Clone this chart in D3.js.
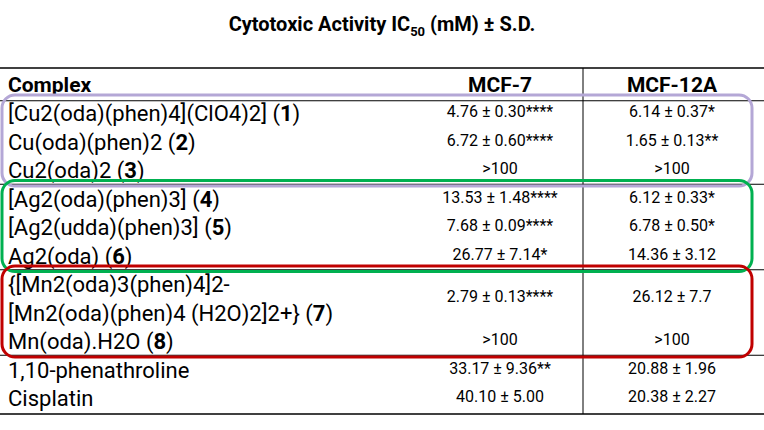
<!DOCTYPE html>
<html lang="en">
<head>
<meta charset="UTF-8">
<script src="https://d3js.org/d3.v7.min.js"></script>
<style>
  body { margin: 0; background: #fff; }
  text { font-family: 'Liberation Sans Narrow', 'Roboto', sans-serif; fill: #000; }
</style>
</head>
<body>
<script>
// Table content
const compounds = [
    [['[Cu2(oda)(phen)4](ClO4)2] (', false], ['1', true], [')', false]],
    [['Cu(oda)(phen)2 (', false], ['2', true], [')', false]],
    [['Cu2(oda)2 (', false], ['3', true], [')', false]],
    [['[Ag2(oda)(phen)3] (', false], ['4', true], [')', false]],
    [['[Ag2(udda)(phen)3] (', false], ['5', true], [')', false]],
    [['Ag2(oda) (', false], ['6', true], [')', false]],
    [['{[Mn2(oda)3(phen)4]2-', false]],
    [['[Mn2(oda)(phen)4 (H2O)2]2+} (', false], ['7', true], [')', false]],
    [['Mn(oda).H2O  (', false], ['8', true], [')', false]],
    [['1,10-phenathroline', false]],
    [['Cisplatin', false]]
];
// line index where each compound label sits
const nameLines = [1, 2, 3, 4, 5, 6, 7, 8, 9, 10, 11];
// line index for the values (row 7 spans two lines)
const valueLines = [1, 2, 3, 4, 5, 6, 7.5, 9, 10, 11];
const mcf7 = ['4.76 ± 0.30****', '6.72 ± 0.60****', '>100', '13.53 ± 1.48****', '7.68 ± 0.09****',
    '26.77 ± 7.14*', '2.79 ± 0.13****', '>100', '33.17 ± 9.36**', '40.10 ± 5.00'];
const mcf12a = ['6.14 ± 0.37*', '1.65 ± 0.13**', '>100', '6.12 ± 0.33*', '6.78 ± 0.50*',
    '14.36 ± 3.12', '26.12 ± 7.7', '>100', '20.88 ± 1.96', '20.38 ± 2.27'];
const headers = ['Complex', 'MCF-7', 'MCF-12A'];
// groups: [first line, last line, colour]
const groups = [[1, 3, '#b4a7d6'], [4, 6, '#00b050'], [7, 9, '#c00000']];
const rules = [3.5, 6.5, 9.5];

const W = 764, H = 430;
const svg = d3.select('body').append('svg').attr('width', W).attr('height', H);

const y = d3.scaleLinear().domain([1, 11]).range([113, 398]);
const colX = { name: 8, mcf7: 500, mcf12a: 672 };
const divX = 583;

// title
const title = svg.append('text')
    .attr('x', W / 2).attr('y', 31)
    .attr('text-anchor', 'middle')
    .attr('font-size', '20px').attr('font-weight', 'bold');
title.append('tspan').text('Cytotoxic Activity IC');
title.append('tspan').attr('font-size', '13px').attr('dy', 5).text('50');
title.append('tspan').attr('dy', -5).text(' (mM) ± S.D.');

// lines
const tableTop = 68, tableBottom = y(11) + 16;
svg.append('line').attr('x1', 0).attr('x2', W).attr('y1', tableTop).attr('y2', tableTop)
    .attr('stroke', '#000').attr('stroke-width', 1.5);
svg.append('line').attr('x1', 0).attr('x2', W).attr('y1', tableBottom).attr('y2', tableBottom)
    .attr('stroke', '#000').attr('stroke-width', 1.5);
svg.append('line').attr('x1', 0).attr('x2', W).attr('y1', y(0.5) + 2).attr('y2', y(0.5) + 2)
    .attr('stroke', '#000').attr('stroke-width', 1);
svg.selectAll('.rule').data(rules).enter().append('line')
    .attr('x1', 0).attr('x2', W)
    .attr('y1', d => y(d)).attr('y2', d => y(d))
    .attr('stroke', '#000').attr('stroke-width', 1);
svg.append('line').attr('x1', divX).attr('x2', divX).attr('y1', tableTop).attr('y2', tableBottom)
    .attr('stroke', '#000').attr('stroke-width', 1);

// header
svg.append('text').attr('x', colX.name).attr('y', 92).attr('font-size', '21px')
    .attr('font-weight', 'bold').text(headers[0]);
svg.append('text').attr('x', colX.mcf7).attr('y', 92).attr('font-size', '21px')
    .attr('font-weight', 'bold').attr('text-anchor', 'middle').text(headers[1]);
svg.append('text').attr('x', colX.mcf12a).attr('y', 92).attr('font-size', '21px')
    .attr('font-weight', 'bold').attr('text-anchor', 'middle').text(headers[2]);

// compound names
svg.selectAll('.name').data(compounds).enter().append('text')
    .attr('x', colX.name)
    .attr('y', (d, i) => y(nameLines[i]) + 8)
    .attr('font-size', '22px')
    .selectAll('tspan').data(d => d).enter().append('tspan')
    .attr('font-weight', d => d[1] ? 'bold' : 'normal')
    .text(d => d[0]);

// values
svg.selectAll('.v7').data(mcf7).enter().append('text')
    .attr('x', colX.mcf7).attr('y', (d, i) => y(valueLines[i]) + 4)
    .attr('text-anchor', 'middle').attr('font-size', '16px').text(d => d);
svg.selectAll('.v12').data(mcf12a).enter().append('text')
    .attr('x', colX.mcf12a).attr('y', (d, i) => y(valueLines[i]) + 4)
    .attr('text-anchor', 'middle').attr('font-size', '16px').text(d => d);

// coloured group boxes
svg.selectAll('.box').data(groups).enter().append('rect')
    .attr('x', 2).attr('width', 750)
    .attr('y', d => y(d[0]) - 18)
    .attr('height', d => y(d[1]) - y(d[0]) + 34)
    .attr('rx', 13).attr('ry', 13)
    .attr('fill', 'none').attr('stroke', d => d[2]).attr('stroke-width', 3);
</script>
</body>
</html>
